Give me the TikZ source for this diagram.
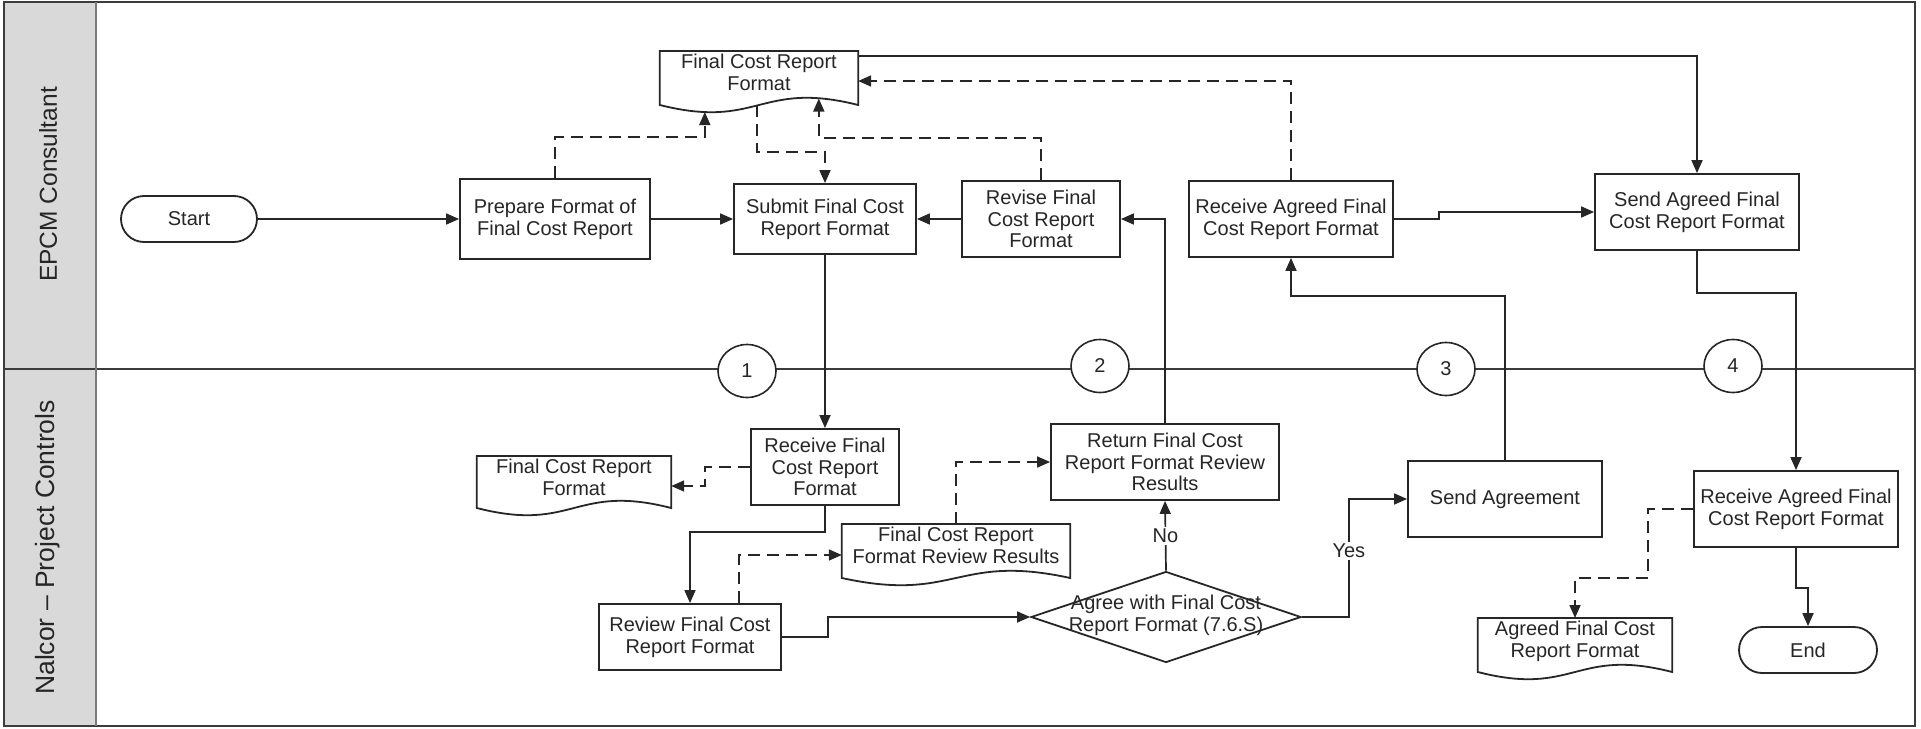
\documentclass[tikz,border=0pt]{standalone}
\usepackage{fontspec}
\setmainfont{Liberation Sans}
\usetikzlibrary{arrows.meta,calc,shapes.geometric}

\definecolor{headfill}{HTML}{D9D9D9}
\definecolor{frameline}{HTML}{3C3C3C}
\definecolor{headline}{HTML}{7A7A7A}
\definecolor{ink}{HTML}{262626}

% outline of a document symbol: straight sides, wavy bottom
\newcommand\docoutline[2]{%
  \draw[shapeline] (#1.north west) -- ($(#1.north west)+(0,#2)$)
    .. controls ($(#1.north)+(0,#2+25)$) and ($(#1.north)+(0,#2-25)$) ..
    ($(#1.north east)+(0,#2)$) -- (#1.north east) -- cycle;}

\begin{document}
\begin{tikzpicture}[x=1pt,y=-1pt,
  every node/.style={text=ink},
  shapeline/.style={draw=ink, line width=1.8pt},
  proc/.style={shapeline, fill=white, align=center, inner sep=2pt,
    font=\fontsize{20}{21.7}\selectfont},
  term/.style={proc, rounded corners=23pt},
  docnode/.style={anchor=north, align=center, inner xsep=2pt, inner ysep=3pt,
    font=\fontsize{20}{21.7}\selectfont},
  decision/.style={shapeline, fill=white, diamond, shape aspect=2.956,
    inner sep=0pt, minimum width=270pt, minimum height=91pt,
    font=\fontsize{20}{21.7}\selectfont},
  conn/.style={shapeline, line width=1.6pt, fill=white, ellipse, inner sep=0pt,
    minimum width=58pt, minimum height=53pt, font=\fontsize{20}{24}\selectfont},
  lane/.style={rotate=90, font=\fontsize{24.5}{28}\selectfont},
  flow/.style={draw=ink, line width=1.7pt, -{Triangle[length=13pt,width=11pt]}},
  dflow/.style={flow, dash pattern=on 12pt off 7pt},
  lbl/.style={fill=white, inner sep=2pt, font=\fontsize{20}{24}\selectfont}]

\useasboundingbox (0,0) rectangle (1921,728);

% pool frame, lane headers and lane divider
\fill[headfill] (4,2) rectangle (96,726);
\draw[frameline, line width=2.6pt] (4,2) rectangle (1915,726);
\draw[frameline, line width=2.4pt] (4,369) -- (1915,369);
\draw[headline, line width=2.6pt] (96,2) -- (96,726);

\node[lane] (lane1) at (48,184.5) {EPCM Consultant};
\node[lane, font=\fontsize{26.5}{30}\selectfont] (lane2) at (48,547.5) {Nalcor -- Project Controls};

% off-page connectors on the lane divider
\node[conn] (c1) at (747,371) {1};
\node[conn] (c2) at (1100,366) {2};
\node[conn] (c3) at (1446,369) {3};
\node[conn] (c4) at (1733,366) {4};

% EPCM Consultant lane
\node[term, minimum width=136pt, minimum height=46pt] (start) at (189,219) {Start};
\node[proc, minimum width=190pt, minimum height=80pt] (prep) at (555,219) {Prepare Format of\\Final Cost Report};
\node[docnode, minimum width=198pt] (fmt1) at (759,51) {Final Cost Report\\Format};
\docoutline{fmt1}{54}
\node[proc, minimum width=182pt, minimum height=70pt] (submit) at (825,219) {Submit Final Cost\\Report Format};
\node[proc, minimum width=158pt, minimum height=76pt] (revise) at (1041,219) {Revise Final\\Cost Report\\Format};
\node[proc, minimum width=204pt, minimum height=76pt] (rcvagreed) at (1291,219) {Receive Agreed Final\\Cost Report Format};
\node[proc, minimum width=204pt, minimum height=76pt] (sendagreed) at (1697,212) {Send Agreed Final\\Cost Report Format};

% Nalcor - Project Controls lane
\node[proc, minimum width=148pt, minimum height=76pt] (rcvfinal) at (825,467) {Receive Final\\Cost Report\\Format};
\node[docnode, minimum width=194pt] (fmt2) at (574,456) {Final Cost Report\\Format};
\docoutline{fmt2}{52}
\node[proc, minimum width=182pt, minimum height=66pt] (review) at (690,637) {Review Final Cost\\Report Format};
\node[docnode, minimum width=228pt] (results) at (956,524) {Final Cost Report\\Format Review Results};
\docoutline{results}{54}
\node[proc, minimum width=228pt, minimum height=76pt] (return) at (1165,462) {Return Final Cost\\Report Format Review\\Results};
\node[decision] (agree) at (1166,617) {\smash{\raisebox{-4pt}{\begin{tabular}{@{}c@{}}Agree with Final Cost\\Report Format (7.6.S)\end{tabular}}}};
\node[proc, minimum width=194pt, minimum height=76pt] (sendagr) at (1505,499) {Send Agreement};
\node[proc, minimum width=204pt, minimum height=76pt] (rcvagreed2) at (1796,509) {Receive Agreed Final\\Cost Report Format};
\node[docnode, minimum width=194pt] (agreedfmt) at (1575,618) {Agreed Final Cost\\Report Format};
\docoutline{agreedfmt}{54}
\node[term, minimum width=138pt, minimum height=46pt] (end) at (1808,650) {End};

% points on the wavy edge of the upper document
\coordinate (w1) at ($(fmt1.north west)+(45,61)$);
\coordinate (w2) at ($(fmt1.north west)+(97,54)$);
\coordinate (w3) at ($(fmt1.north west)+(159,47.5)$);

% sequence flow, upper lane
\draw[flow] (start.east) -- (prep.west);
\draw[flow] (prep.east) -- (submit.west);
\draw[flow] (revise.west) -- (submit.east);
\draw[flow] (rcvagreed.east) -- ++(45,0) |- (sendagreed.west);
\draw[flow] ($(fmt1.north east)+(0,5)$) -| (sendagreed.north);

% data associations, upper lane
\draw[dflow] (prep.north) -- ++(0,-41) -| (w1);
\draw[dflow] (w2) -- ++(0,47) -| (submit.north);
\draw[dflow] (revise.north) -- ++(0,-42) -| (w3);
\draw[dflow] (rcvagreed.north) |- ($(fmt1.north east)+(0,30)$);

% flows between the lanes
\draw[flow] (submit.south) -- (rcvfinal.north);
\draw[flow] (return.north) |- (revise.east);
\draw[flow] (sendagr.north) -- ++(0,-164) -| (rcvagreed.south);
\draw[flow] (sendagreed.south) -- ++(0,42) -| (rcvagreed2.north);

% sequence flow, lower lane
\draw[flow] (rcvfinal.south) -- ++(0,26) -| (review.north);
\draw[flow] (review.east) -- ++(46,0) |- (agree.west);
\draw[flow] (agree.north) -- node[lbl] {No} (return.south);
\draw[flow] (agree.east) -- ++(47,0) |- node[lbl, pos=0.28] {Yes} (sendagr.west);
\draw[flow] (rcvagreed2.south) -- ++(0,40) -| (end.north);

% data associations, lower lane
\draw[dflow] (rcvfinal.west) -- ++(-45,0) |- ($(fmt2.north east)+(0,30)$);
\draw[dflow] ($(review.north)+(49,0)$) |- ($(results.north west)+(0,31)$);
\draw[dflow] (results.north) |- (return.west);
\draw[dflow] (rcvagreed2.west) -- ++(-45,0) -- ++(0,69) -| (agreedfmt.north);

\end{tikzpicture}
\end{document}
